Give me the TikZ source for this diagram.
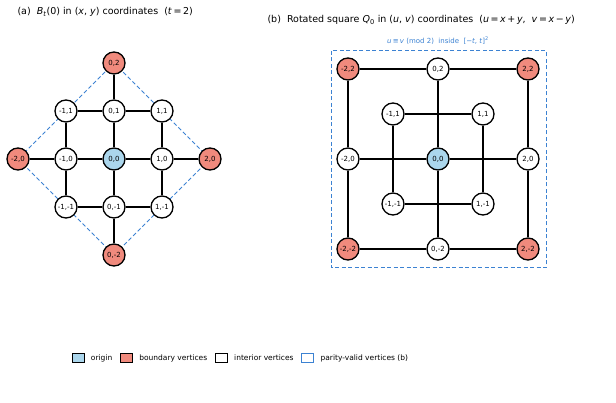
\documentclass[tikz,border=0pt]{standalone}
\usepackage{fontspec}
\setmainfont{DejaVu Sans}
\usetikzlibrary{positioning}
\definecolor{origincolor}{RGB}{171,214,236}
\definecolor{bndcolor}{RGB}{240,138,125}
\definecolor{paritycolor}{RGB}{60,130,210}
\newcommand{\vv}[1]{\textit{#1}}
\tikzset{
  vtx/.style={circle,draw=black,line width=1.3pt,minimum size=22pt,inner sep=0pt,font=\fontsize{7}{7}\selectfont,fill=white},
  org/.style={vtx,fill=origincolor},
  bnd/.style={vtx,fill=bndcolor},
  edge/.style={line width=1.3pt},
  par/.style={paritycolor,dash pattern=on 4pt off 2.5pt,line width=1pt},
  leg/.style={draw=black,line width=0.9pt,minimum width=12pt,minimum height=9pt,inner sep=0pt},
}
\begin{document}
\begin{tikzpicture}[x=1pt,y=-1pt,font=\fontsize{8}{9}\selectfont]
	\useasboundingbox (0,0) rectangle (616,403);

	%%% Titulos
	\node[anchor=west,font=\fontsize{9.5}{11}\selectfont] (ta) at (14,12) {(a)\ \ \vv{B}\textsubscript{\vv{t}}(0) in (\vv{x}, \vv{y}) coordinates\ \ (\vv{t}\,=\,2)};
	\node[anchor=west,font=\fontsize{9.5}{11}\selectfont] (tb) at (264,20) {(b)\ \ Rotated square \vv{Q}\textsubscript{0} in (\vv{u}, \vv{v}) coordinates\ \ (\vv{u}\,=\,\vv{x}\,+\,\vv{y},\ \ \vv{v}\,=\,\vv{x}\,−\,\vv{y})};

	%%% (a) bola en (x,y)
	\begin{scope}[shift={(114,159)},x=48pt,y=48pt]
		\draw[par] (0,2) -- (2,0) -- (0,-2) -- (-2,0) -- cycle;
		\foreach \x/\y in {-1/1,0/1,1/1,-1/0,1/0,-1/-1,0/-1,1/-1}
			\node[vtx] (a\x\y) at (\x,\y) {\x,\y};
		\node[org] (a00) at (0,0) {0,0};
		\foreach \x/\y in {0/2,2/0,0/-2,-2/0}
			\node[bnd] (a\x\y) at (\x,\y) {\x,\y};
	\end{scope}
	\foreach \p/\q in {a02/a01,a-20/a-10,a20/a10,a0-2/a0-1,
		a-11/a01,a01/a11,a-10/a00,a00/a10,a-1-1/a0-1,a0-1/a1-1,
		a-11/a-10,a-10/a-1-1,a01/a00,a00/a0-1,a11/a10,a10/a1-1}
		\draw[edge] (\p) -- (\q);

	%%% (b) cuadrado rotado en (u,v)
	\draw[par] (331,51) rectangle (546,268);
	\node[paritycolor,font=\fontsize{7}{8}\selectfont] (plab) at (438,41) {\vv{u}\,≡\,\vv{v} (mod 2)\ \ inside\ \ [−\vv{t}, \vv{t}]\textsuperscript{2}};
	\begin{scope}[shift={(438,159)},x=45pt,y=45pt]
		\foreach \x/\y in {0/2,-2/0,2/0,0/-2,-1/1,1/1,-1/-1,1/-1}
			\node[vtx] (b\x\y) at (\x,\y) {\x,\y};
		\node[org] (b00) at (0,0) {0,0};
		\foreach \x/\y in {-2/2,2/2,-2/-2,2/-2}
			\node[bnd] (b\x\y) at (\x,\y) {\x,\y};
	\end{scope}
	\foreach \p/\q in {b-22/b02,b02/b22,b22/b20,b20/b2-2,b2-2/b0-2,b0-2/b-2-2,b-2-2/b-20,b-20/b-22,
		b-11/b11,b11/b1-1,b1-1/b-1-1,b-1-1/b-11,
		b02/b00,b00/b0-2,b-20/b00,b00/b20}
		\draw[edge] (\p) -- (\q);

	%%% Leyenda
	\begin{scope}[font=\fontsize{7.5}{8}\selectfont]
		\node[leg,fill=origincolor] (l1) at (78,358) {};
		\node[right=3pt of l1] (t1) {origin};
		\node[leg,fill=bndcolor,right=4pt of t1] (l2) {};
		\node[right=3pt of l2] (t2) {boundary vertices};
		\node[leg,fill=white,right=4pt of t2] (l3) {};
		\node[right=3pt of l3] (t3) {interior vertices};
		\node[leg,draw=paritycolor,fill=white,right=4pt of t3] (l4) {};
		\node[right=3pt of l4] (t4) {parity-valid vertices (b)};
	\end{scope}
\end{tikzpicture}
\end{document}
